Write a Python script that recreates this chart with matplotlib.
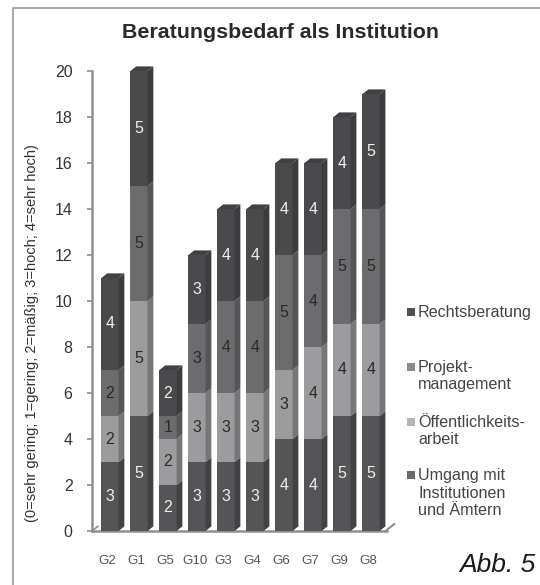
import matplotlib
matplotlib.use("Agg")
import matplotlib.pyplot as plt
from matplotlib.lines import Line2D
from matplotlib.patches import Polygon, Rectangle
from matplotlib.transforms import ScaledTranslation

plt.rcParams['font.family'] = ['Liberation Sans', 'DejaVu Sans']

GRUPPEN = ["G2", "G1", "G5", "G10", "G3", "G4", "G6", "G7", "G9", "G8"]
UMGANG = [3, 5, 2, 3, 3, 3, 4, 4, 5, 5]
OEFFENTLICH = [2, 5, 2, 3, 3, 3, 3, 4, 4, 4]
PROJEKT = [2, 5, 1, 3, 4, 4, 5, 4, 5, 5]
RECHT = [4, 5, 2, 3, 4, 4, 4, 4, 4, 5]
Y_TICKS = [0, 2, 4, 6, 8, 10, 12, 14, 16, 18, 20]

SERIEN = [UMGANG, OEFFENTLICH, PROJEKT, RECHT]
FRONT = ['#555557', '#9c9c9e', '#6c6c6f', '#4a4a4c']
SEITE = ['#424244', '#767678', '#565659', '#3d3d3f']
LABEL_FARBE = ['#eeeeee', '#2a2a2a', '#2a2a2a', '#eeeeee']
ACHSE = '#8f8f92'

BREITE = 0.59
DX = 0.2
DY = 0.2

fig = plt.figure(figsize=(5.4, 5.85), dpi=100)

# Rahmen: nur links und oben sichtbar
fig.add_artist(Line2D([13 / 540, 13 / 540, 1], [0, 1 - 8 / 585, 1 - 8 / 585], color='#a0a0a0', lw=1.3))

ax = fig.add_axes([92 / 540, 1 - 531 / 585, 295 / 540, 460 / 585])
ax.set_xlim(-0.62, 9.55)
ax.set_ylim(0, 20)
ax.patch.set_alpha(0)

for i, gruppe in enumerate(GRUPPEN):
    basis = 0
    links = i - BREITE / 2
    rechts = i + BREITE / 2
    for s, werte in enumerate(SERIEN):
        wert = werte[i]
        ax.add_patch(Rectangle((links, basis), BREITE, wert, fc=FRONT[s], ec='none', zorder=3))
        ax.add_patch(Polygon([(rechts, basis), (rechts + DX, basis + DY),
                              (rechts + DX, basis + wert + DY), (rechts, basis + wert)],
                             fc=SEITE[s], ec='none', zorder=3, clip_on=False))
        ax.text(i, basis + wert / 2, str(wert), ha='center', va='center',
                fontsize=11.5, color=LABEL_FARBE[s], zorder=4)
        basis += wert
    ax.add_patch(Polygon([(links, basis), (links + DX, basis + DY),
                          (rechts + DX, basis + DY), (rechts, basis)],
                         fc='#414143', ec='none', zorder=3, clip_on=False))

for name in ['top', 'right']:
    ax.spines[name].set_visible(False)
for name in ['left', 'bottom']:
    ax.spines[name].set_color(ACHSE)
    ax.spines[name].set_linewidth(1.8)

# schraege Bodenkanten wie beim 3D-Diagramm
ax.plot([-0.62, -0.62 + DX], [0, DY], color=ACHSE, lw=1.2, clip_on=False, zorder=2)
ax.plot([9.55 - 0.05, 9.55 - 0.05 + 0.3], [0, 0.3], color=ACHSE, lw=1.5, clip_on=False, zorder=2)

ax.set_yticks(Y_TICKS)
ax.set_xticks(range(len(GRUPPEN)))
ax.set_xticklabels(GRUPPEN, fontsize=9.6, color='#555555')
ax.tick_params(axis='x', length=0, pad=17)
ax.tick_params(axis='y', length=3.5, width=1.2, color=ACHSE, labelsize=11.5,
               labelcolor='#333333', pad=10.5)
for label in ax.get_xticklabels():
    label.set_transform(label.get_transform() + ScaledTranslation(-2.5 / 100, 0, fig.dpi_scale_trans))

fig.text(32 / 540, 1 - 333 / 585, '(0=sehr gering; 1=gering; 2=mäßig; 3=hoch; 4=sehr hoch)',
         rotation=90, ha='center', va='center', fontsize=10.5, color='#333333')

fig.text(280 / 540, 1 - 32 / 585, 'Beratungsbedarf als Institution', ha='center', va='center',
         fontsize=15.4, fontweight='bold', color='#2a2a2a')

# Legende von Hand, damit die Zeilen wie im Original sitzen
LEGENDE = [(312, 'Rechtsberatung', '#505052'),
           (367, 'Projekt-\nmanagement', '#8a8a8c'),
           (422, 'Öffentlichkeits-\narbeit', '#b5b5b7'),
           (475, 'Umgang mit\nInstitutionen\nund Ämtern', '#6a6a6c')]
for y_px, text, farbe in LEGENDE:
    zeilen = text.count('\n')
    fig.add_artist(Rectangle((407 / 540, 1 - (y_px + 4) / 585), 8 / 540, 8 / 585,
                             transform=fig.transFigure, fc=farbe, ec='none'))
    fig.text(418 / 540, 1 - (y_px + zeilen * 9) / 585, text, ha='left', va='center', fontsize=11.6,
             color='#444444', linespacing=1.17)

fig.text(536 / 540, 1 - 565 / 585, 'Abb. 5', ha='right', va='center', fontsize=19,
         style='italic', color='#1a1a1a')

fig.savefig('out.png', dpi=100)
